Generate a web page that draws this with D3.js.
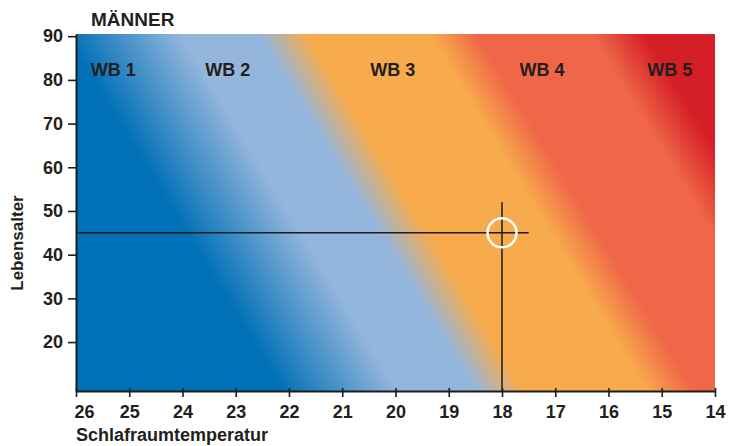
<!DOCTYPE html>
<html>
<head>
<meta charset="utf-8">
<script src="https://cdn.jsdelivr.net/npm/d3@7"></script>
<style>
  body { margin: 0; background: #fff; }
  svg { display: block; }
</style>
</head>
<body>
<svg id="chart"></svg>
<script>
// --- data ---
const tempTicks = [26, 25, 24, 23, 22, 21, 20, 19, 18, 17, 16, 15, 14];
const ageTicks = [20, 30, 40, 50, 60, 70, 80, 90];
const zoneNames = ["WB 1", "WB 2", "WB 3", "WB 4", "WB 5"];
const zoneLabelTemps = [25.3, 23.15, 20.05, 17.25, 14.85];
const zoneLabelAge = 81;
// colour band edges, as temperature at age 50; bands move 0.05 °C per year of age
const refAge = 50;
const shiftPerYear = 0.05;
const stopTemps = [24.2, 22.0, 20.55, 19.65, 17.35, 16.45, 14.3, 13.3];
const stopColors = ["#0070b7", "#94b6dc", "#94b6dc", "#f8ab4c", "#f8ab4c", "#ef6748", "#ef6748", "#d51f26"];
// reading example
const markTemp = 18;
const markAge = 45;
const markLineEnds = { temp: 17.5, age: 52 };

const width = 735;
const height = 446;
const font = "'Liberation Sans', Arial, sans-serif";

const svg = d3.select("#chart")
    .attr("width", width)
    .attr("height", height)
    .style("font-family", font);

const x = d3.scaleLinear().domain([26, 14]).range([76, 715]);
const y = d3.scaleLinear().domain([8.8, 90.5]).range([391, 34]);
const [ageMin, ageMax] = y.domain();

// gradient perpendicular to the slanted bands
const tA = 30, tB = 10;
const isoDx = x(20 + shiftPerYear) - x(20);
const isoDy = y(refAge + 1) - y(refAge);
const len = Math.hypot(isoDx, isoDy);
const nx = -isoDy / len, ny = isoDx / len;
const ax = x(tA), ay = y(refAge);
const L = (x(tB) - x(tA)) * nx;

const grad = svg.append("defs").append("linearGradient")
    .attr("id", "bands")
    .attr("gradientUnits", "userSpaceOnUse")
    .attr("x1", ax).attr("y1", ay)
    .attr("x2", ax + L * nx).attr("y2", ay + L * ny);

grad.selectAll("stop")
    .data(stopTemps)
    .join("stop")
    .attr("offset", d => (d - tA) / (tB - tA))
    .attr("stop-color", (d, i) => stopColors[i]);

svg.append("rect")
    .attr("x", x(26)).attr("y", y(ageMax))
    .attr("width", x(14) - x(26))
    .attr("height", y(ageMin) - y(ageMax))
    .attr("fill", "url(#bands)");

// zone labels
svg.append("g")
    .selectAll("text")
    .data(zoneNames)
    .join("text")
    .attr("x", (d, i) => x(zoneLabelTemps[i]))
    .attr("y", y(zoneLabelAge))
    .attr("text-anchor", "middle")
    .attr("font-size", 18)
    .attr("font-weight", "bold")
    .attr("fill", "#231f20")
    .text(d => d);

// crosshair
svg.append("line")
    .attr("x1", x(26)).attr("x2", x(markLineEnds.temp))
    .attr("y1", y(markAge)).attr("y2", y(markAge))
    .attr("stroke", "#1d1d1b").attr("stroke-width", 1.5);
svg.append("line")
    .attr("x1", x(markTemp)).attr("x2", x(markTemp))
    .attr("y1", y(markLineEnds.age)).attr("y2", y(ageMin))
    .attr("stroke", "#1d1d1b").attr("stroke-width", 1.5);
svg.append("circle")
    .attr("cx", x(markTemp)).attr("cy", y(markAge))
    .attr("r", 14.5)
    .attr("fill", "none")
    .attr("stroke", "#fff")
    .attr("stroke-width", 2.5);

// axes
const yAxis = svg.append("g")
    .attr("transform", `translate(${x(26)},0)`)
    .call(d3.axisLeft(y).tickValues(ageTicks).tickSize(8).tickSizeOuter(0).tickPadding(5));

const xAxis = svg.append("g")
    .attr("transform", `translate(0,${y(ageMin)})`)
    .call(d3.axisBottom(x).tickValues(tempTicks).tickSize(6).tickSizeOuter(0).tickPadding(8));

xAxis.selectAll(".tick line").attr("y1", -3);
xAxis.selectAll(".tick text").filter(d => d === 26).attr("text-anchor", "start").attr("dx", -2);

[xAxis, yAxis].forEach(g => {
    g.select(".domain").attr("stroke", "#1d1d1b").attr("stroke-width", 2);
    g.selectAll(".tick line").attr("stroke", "#1d1d1b").attr("stroke-width", 1.6);
    g.selectAll(".tick text")
        .attr("fill", "#231f20")
        .attr("font-size", 18)
        .attr("font-weight", "bold")
        .style("font-family", font);
});

// titles
svg.append("text")
    .attr("x", 91).attr("y", 26)
    .attr("font-size", 19)
    .attr("font-weight", "bold")
    .attr("fill", "#231f20")
    .text("MÄNNER");

svg.append("text")
    .attr("x", 76).attr("y", 441)
    .attr("font-size", 18)
    .attr("font-weight", "bold")
    .attr("fill", "#231f20")
    .text("Schlafraumtemperatur");

svg.append("text")
    .attr("transform", `translate(23,243) rotate(-90)`)
    .attr("text-anchor", "middle")
    .attr("font-size", 17)
    .attr("font-weight", "bold")
    .attr("fill", "#231f20")
    .text("Lebensalter");
</script>
</body>
</html>
